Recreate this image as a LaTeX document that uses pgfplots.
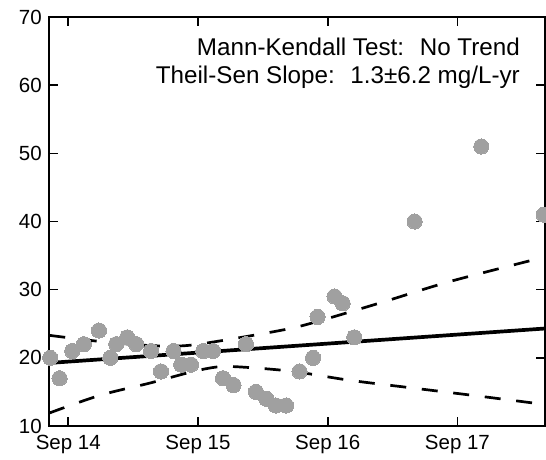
\documentclass[border=0pt]{standalone}
\usepackage{fontspec}
\setmainfont{Liberation Sans}
\usepackage{pgfplots}
\pgfplotsset{compat=1.18}
\definecolor{ptgray}{HTML}{A0A0A0}

\begin{document}
\begin{tikzpicture}
\begin{axis}[
    scale only axis,
    width=495.7pt,
    height=409pt,
    xmin=13.854, xmax=17.675,
    ymin=10, ymax=70,
    xtick={14,15,16,17},
    xticklabels={Sep 14, Sep 15, Sep 16, Sep 17},
    ytick={10,20,...,70},
    axis line style={line width=2.4pt},
    major tick length=9pt,
    tick style={line width=1.6pt, black},
    tick align=inside,
    x tick label style={font=\fontsize{20.5}{24}\selectfont, yshift=-6pt},
    y tick label style={font=\fontsize{20.5}{24}\selectfont, xshift=-4pt},
    /pgf/number format/assume math mode=true,
]
% observations
\addplot[only marks, color=ptgray, mark=*, mark size=7.6pt,
    mark options={fill=ptgray, draw=ptgray, line width=0pt}] coordinates {
    (13.861,20) (13.933,17) (14.031,21) (14.121,22) (14.237,24) (14.324,20)
    (14.370,22) (14.455,23) (14.524,22) (14.638,21) (14.715,18) (14.812,21)
    (14.871,19) (14.946,19) (15.041,21) (15.116,21) (15.193,17) (15.274,16)
    (15.370,22) (15.447,15) (15.527,14) (15.601,13) (15.679,13) (15.783,18)
    (15.887,20) (15.922,26) (16.053,29) (16.115,28) (16.205,23) (16.670,40)
    (17.184,51) (17.665,41)
};
% Theil-Sen fit
\addplot[black, line width=3.7pt] coordinates {(13.854,19.25) (17.675,24.3)};
% confidence band
\addplot[black, line width=2.7pt, dash pattern=on 16pt off 15.7pt, smooth, tension=0.5] coordinates {
    (13.854,23.3) (14.244,22.4) (14.630,21.8) (14.913,21.8) (15.272,22.8)
    (15.684,24.2) (15.915,25.3) (16.429,28.2) (16.943,31.2) (17.675,34.8)
};
\addplot[black, line width=2.7pt, dash pattern=on 16pt off 15.7pt, smooth, tension=0.5] coordinates {
    (13.854,11.9) (14.244,14.5) (14.630,16.3) (14.964,18.0) (15.170,18.7)
    (15.375,18.6) (15.735,18.0) (16.172,16.7) (16.686,15.5) (17.200,14.3)
    (17.675,13.15)
};
\node[anchor=base east, inner sep=0pt, font=\fontsize{24.2}{29}\selectfont]
    at (axis description cs:0.9496,0.907) {Mann-Kendall Test:~ No Trend};
\node[anchor=base east, inner sep=0pt, font=\fontsize{24.2}{29}\selectfont]
    at (axis description cs:0.9496,0.8386) {Theil-Sen Slope:~ 1.3±6.2 mg/L-yr};
\end{axis}
\pgfresetboundingbox
\path[use as bounding box] ([xshift=-49.3pt,yshift=-34pt]current axis.south west)
    rectangle ([xshift=1pt,yshift=17pt]current axis.north east);
\end{tikzpicture}
\end{document}
